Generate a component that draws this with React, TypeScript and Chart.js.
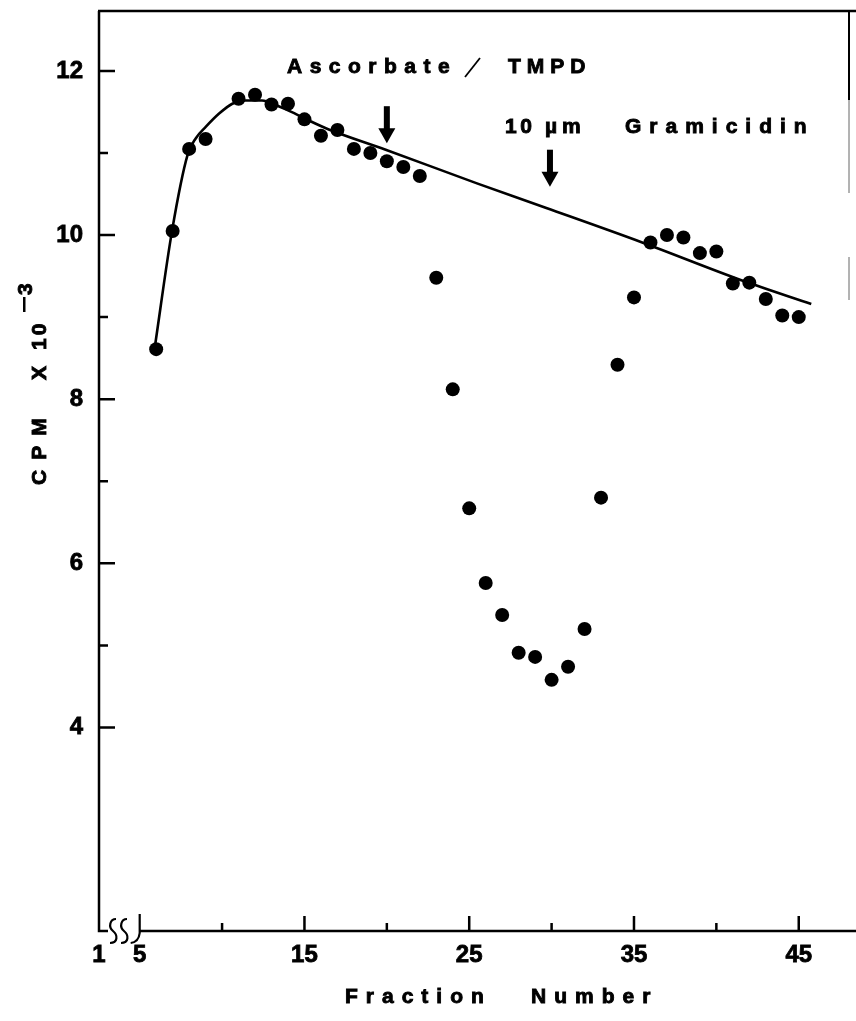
import React, { useEffect, useRef } from 'react';
import { Chart, registerables } from 'chart.js';

Chart.register(...registerables);

// ---- data ----
const fractions = [6, 7, 8, 9, 11, 12, 13, 14, 15, 16, 17, 18, 19, 20, 21, 22, 23, 24, 25, 26, 27, 28, 29, 30, 31, 32, 33, 34, 35, 36, 37, 38, 39, 40, 41, 42, 43, 44, 45];
const cpm = [8.61, 10.05, 11.05, 11.17, 11.66, 11.71, 11.59, 11.6, 11.41, 11.21, 11.28, 11.05, 11.0, 10.9, 10.83, 10.72, 9.48, 8.12, 6.67, 5.76, 5.37, 4.91, 4.86, 4.58, 4.74, 5.2, 6.8, 8.42, 9.24, 9.91, 10.0, 9.97, 9.78, 9.8, 9.41, 9.42, 9.22, 9.02, 9.0];

const curveFractions = [5.9, 6.97, 7.91, 8.41, 9.02, 9.82, 10.62, 11.42, 12.42, 13.43, 14.43, 15.43, 16.44, 19.93, 25.47, 29.68, 35.5, 41.52, 45.76];
const curveCpm = [8.61, 10.06, 10.98, 11.18, 11.32, 11.48, 11.6, 11.64, 11.64, 11.57, 11.48, 11.38, 11.29, 11.04, 10.63, 10.33, 9.91, 9.45, 9.16];

const X_MIN = 2.53;
const X_MAX = 48.05;
const Y_MIN = 1.52;
const Y_MAX = 12.73;

const xTickValues = [X_MIN, 5, 10, 15, 20, 25, 30, 35, 40, 45];
const xTickLabels = ['1', '5', '', '15', '', '25', '', '35', '', '45'];
const yTickValues = [4, 5, 6, 7, 8, 9, 10, 11, 12];
const yTickLabels = ['4', '', '6', '', '8', '', '10', '', '12'];

const arrowFractions = [20, 29.9];
const arrowTops = [11.57, 11.04];
const arrowTips = [11.12, 10.59];

const FONT = '"Liberation Sans", Arial, sans-serif';

function spaced(ctx: CanvasRenderingContext2D, text: string, x: number, y: number, sp: number) {
  let cx = x;
  for (const ch of text) {
    ctx.fillText(ch, cx, y);
    ctx.strokeText(ch, cx, y);
    cx += ctx.measureText(ch).width + sp;
  }
}

function sCurve(ctx: CanvasRenderingContext2D, cx: number, b: number) {
  ctx.moveTo(cx + 3, b - 12);
  ctx.bezierCurveTo(cx - 3, b - 12, cx - 5, b - 4, cx, b);
  ctx.bezierCurveTo(cx + 5, b + 4, cx + 5, b + 12, cx - 3, b + 12);
}

const decor = {
  id: 'decor',
  afterDraw(chart: any) {
    const { ctx, chartArea: a, scales } = chart;
    const xs = scales.x;
    const ys = scales.y;
    ctx.save();
    ctx.strokeStyle = '#000';
    ctx.fillStyle = '#000';
    ctx.lineWidth = 2.5;
    ctx.lineCap = 'butt';

    // axes and frame
    const x5 = xs.getPixelForValue(5);
    ctx.beginPath();
    ctx.moveTo(a.left, a.top);
    ctx.lineTo(a.left, a.bottom);
    ctx.lineTo(a.left + 9, a.bottom);
    ctx.moveTo(x5, a.bottom);
    ctx.lineTo(chart.width, a.bottom);
    ctx.moveTo(a.left - 1, a.top);
    ctx.lineTo(chart.width, a.top);
    ctx.stroke();

    // right border fragments
    ctx.lineWidth = 2;
    ctx.beginPath();
    ctx.moveTo(a.right, a.top);
    ctx.lineTo(a.right, 100);
    ctx.stroke();
    ctx.lineWidth = 1;
    ctx.strokeStyle = '#666';
    ctx.beginPath();
    ctx.moveTo(a.right, 100);
    ctx.lineTo(a.right, 193);
    ctx.moveTo(a.right, 257);
    ctx.lineTo(a.right, 300);
    ctx.stroke();
    ctx.strokeStyle = '#000';

    // inward ticks
    ctx.lineWidth = 2.5;
    ctx.beginPath();
    yTickValues.forEach((v) => {
      const p = ys.getPixelForValue(v);
      const len = v % 2 === 0 ? 16 : 9;
      ctx.moveTo(a.left, p);
      ctx.lineTo(a.left + len, p);
    });
    xTickValues.forEach((v) => {
      if (v <= 5) return;
      const p = xs.getPixelForValue(v);
      const len = v % 10 === 5 ? 15 : 8;
      ctx.moveTo(p, a.bottom);
      ctx.lineTo(p, a.bottom - len);
    });
    ctx.stroke();

    // axis break squiggles
    const b = a.bottom;
    ctx.lineWidth = 2.2;
    ctx.beginPath();
    sCurve(ctx, a.left + 14, b);
    sCurve(ctx, a.left + 25, b);
    ctx.moveTo(x5, b - 17);
    ctx.lineTo(x5, b + 2);
    ctx.quadraticCurveTo(x5 - 1, b + 11, x5 - 9, b + 12);
    ctx.stroke();

    // arrows
    arrowFractions.forEach((f, i) => {
      const px = xs.getPixelForValue(f);
      const top = ys.getPixelForValue(arrowTops[i]);
      const tip = ys.getPixelForValue(arrowTips[i]);
      const headLen = 15;
      ctx.fillRect(px - 3, top, 6, tip - top - headLen + 1);
      ctx.beginPath();
      ctx.moveTo(px - 8.5, tip - headLen);
      ctx.lineTo(px + 8.5, tip - headLen);
      ctx.lineTo(px, tip);
      ctx.closePath();
      ctx.fill();
    });

    // annotation texts
    ctx.font = `bold 21px ${FONT}`;
    ctx.textBaseline = 'alphabetic';
    ctx.textAlign = 'left';
    ctx.lineWidth = 0.9;
    spaced(ctx, 'Ascorbate', 287, 73, 7.5);
    ctx.lineWidth = 1.8;
    ctx.beginPath();
    ctx.moveTo(465, 77);
    ctx.lineTo(480, 58);
    ctx.stroke();
    ctx.lineWidth = 0.9;
    spaced(ctx, 'TMPD', 508, 73, 6);
    spaced(ctx, '10', 505, 133, 3.5);
    spaced(ctx, 'µm', 545, 133, 5);
    spaced(ctx, 'Gramicidin', 625, 133, 8);

    // x title
    spaced(ctx, 'Fraction', 345, 1003, 8);
    spaced(ctx, 'Number', 531, 1003, 8);

    // y title (rotated)
    ctx.save();
    ctx.translate(46, 485);
    ctx.rotate(-Math.PI / 2);
    ctx.font = `bold 21px ${FONT}`;
    ctx.lineWidth = 0.9;
    spaced(ctx, 'CPM', 0, 0, 10);
    spaced(ctx, 'X', 105, 0, 0);
    spaced(ctx, '10', 135, 0, 3);
    ctx.fillRect(173, -23, 15, 2.5);
    spaced(ctx, '3', 190, -14, 0);
    ctx.restore();

    ctx.restore();
  },
};

export default function App() {
  const ref = useRef<HTMLCanvasElement | null>(null);

  useEffect(() => {
    document.body.style.margin = '0';
    const canvas = ref.current;
    if (!canvas) return;
    const tickFont = { family: FONT, size: 24, weight: 'bold' as const };
    const chart = new Chart(canvas, {
      type: 'scatter',
      data: {
        datasets: [
          {
            label: 'CPM',
            data: fractions.map((f, i) => ({ x: f, y: cpm[i] })),
            backgroundColor: '#000',
            borderColor: '#000',
            pointRadius: 7,
            pointBorderWidth: 0,
            showLine: false,
          },
          {
            label: 'fit',
            data: curveFractions.map((f, i) => ({ x: f, y: curveCpm[i] })),
            borderColor: '#000',
            backgroundColor: '#000',
            borderWidth: 2.6,
            pointRadius: 0,
            showLine: true,
            cubicInterpolationMode: 'monotone',
          } as any,
        ],
      },
      options: {
        animation: false,
        responsive: false,
        devicePixelRatio: 1,
        layout: { padding: { left: 0, top: 11, right: 1, bottom: 0 } },
        plugins: { legend: { display: false }, tooltip: { enabled: false } },
        scales: {
          x: {
            type: 'linear',
            min: X_MIN,
            max: X_MAX,
            grid: { display: false, drawTicks: false },
            border: { display: false },
            afterBuildTicks: (s: any) => {
              s.ticks = xTickValues.map((v) => ({ value: v }));
            },
            afterFit: (s: any) => {
              s.height = 90;
              s.paddingLeft = 0;
              s.paddingRight = 0;
            },
            ticks: {
              autoSkip: false,
              maxRotation: 0,
              padding: 10,
              color: '#000',
              textStrokeColor: '#000',
              textStrokeWidth: 0.8,
              font: tickFont,
              callback: (_v: any, i: number) => xTickLabels[i],
            },
          } as any,
          y: {
            type: 'linear',
            min: Y_MIN,
            max: Y_MAX,
            grid: { display: false, drawTicks: false },
            border: { display: false },
            afterBuildTicks: (s: any) => {
              s.ticks = yTickValues.map((v) => ({ value: v }));
            },
            afterFit: (s: any) => {
              s.width = 99;
              s.paddingTop = 0;
              s.paddingBottom = 0;
            },
            ticks: {
              autoSkip: false,
              padding: 16,
              color: '#000',
              textStrokeColor: '#000',
              textStrokeWidth: 0.8,
              font: tickFont,
              callback: (_v: any, i: number) => yTickLabels[i],
            },
          } as any,
        },
      },
      plugins: [decor],
    });
    return () => chart.destroy();
  }, []);

  return (
    <div style={{ position: 'absolute', left: 0, top: 0, width: 856, height: 1021, background: '#fff' }}>
      <canvas ref={ref} width={856} height={1021} style={{ display: 'block', width: 856, height: 1021 }} />
    </div>
  );
}
